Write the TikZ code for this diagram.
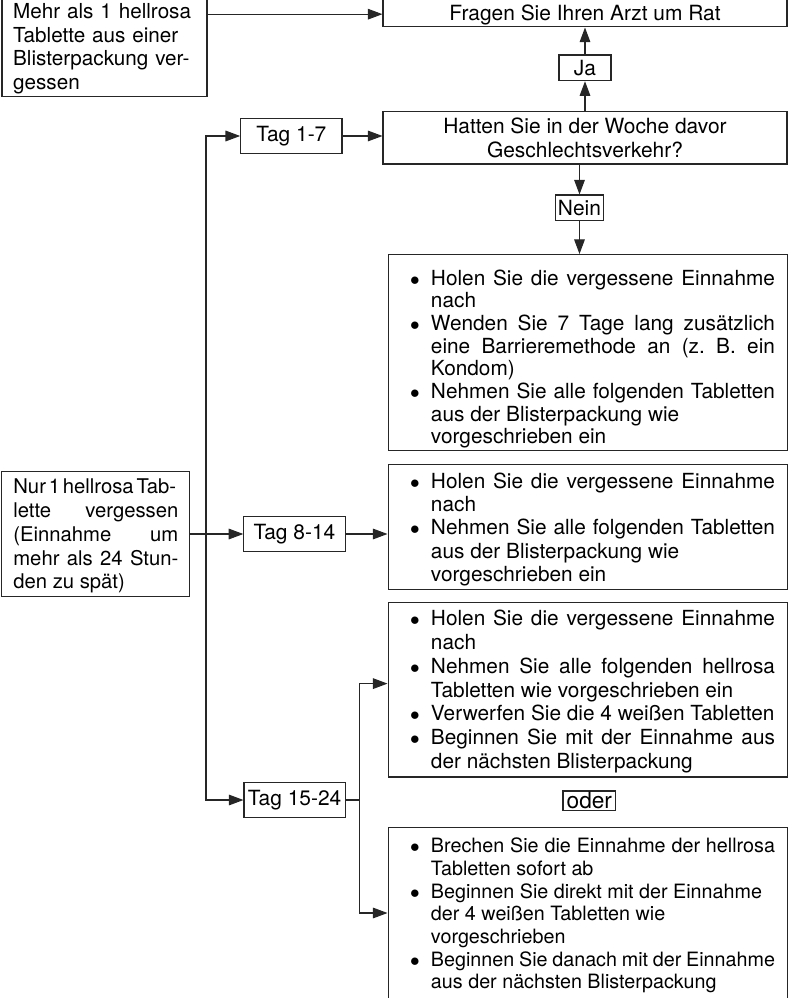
\documentclass[tikz,border=0pt]{standalone}
\usepackage{fontspec}
\setmainfont{TeX Gyre Heros}
\usetikzlibrary{arrows.meta,calc}
\hyphenpenalty=10000
\exhyphenpenalty=10000
\frenchspacing

%% Aufzaehlungspunkt mit haengendem Einzug
\newcommand{\punkt}{\par\noindent\hangindent=22.7pt\hangafter=1\hspace*{7pt}\makebox[15.7pt][l]{$\bullet$}}
%% Abstand oben / unten im Kasten
\newcommand{\oben}[1]{\rule{0pt}{#1}}
\newcommand{\unten}[1]{\rule[-#1]{0pt}{#1}}

\begin{document}
\begin{tikzpicture}[x=0.75pt, y=-0.75pt,
  kasten/.style={draw=black!85, line width=0.8pt, inner sep=0pt, font=\fontsize{15.7}{17.5}\selectfont},
  liste/.style={kasten, anchor=north, text width=280.7pt, inner xsep=9.5pt, align=justify},
  tagbox/.style={kasten, minimum width=76pt, minimum height=26pt},
  pfeil/.style={-{Triangle[length=11pt,width=8pt]}, line width=0.8pt, draw=black!85}]

\useasboundingbox (0,0) rectangle (793,998);
\clip (0,0) rectangle (793,998);

%% Ausgangslage
\node[kasten, anchor=north, text width=137pt, inner xsep=8.375pt, align=left,
      font=\fontsize{15.5}{17.8}\selectfont] (mehr) at (104.5,-1)
  {\oben{14.25pt}Mehr als 1 hellrosa\\Tablette aus einer\\Blisterpackung ver-\\gessen\unten{5pt}};
\node[kasten, anchor=north, text width=123.75pt, inner xsep=8.7pt, align=justify,
      font=\fontsize{15.2}{17.8}\selectfont] (nur) at (95.85,470.7)
  {\oben{16.95pt}\mbox{Nur\hspace{2.1pt}1\hspace{2.1pt}hellrosa\hspace{2.1pt}Tab-}\linebreak lette vergessen\linebreak
   (Einnahme um\linebreak mehr als 24 Stun-\linebreak den zu spät)\unten{5.8pt}\par};

%% Fragen
\node[kasten, anchor=south, minimum width=303pt, text height=30pt, text depth=5.1pt] (fragen) at (585,27.5)
  {Fragen Sie Ihren Arzt um Rat};
\node[kasten, minimum width=39pt, minimum height=19.3pt] (ja) at (585,67.85) {Ja};
\node[kasten, minimum width=303pt, minimum height=39.2pt, align=center] (hatten) at (585,137.85)
  {Hatten Sie in der Woche davor\\Geschlechtsverkehr?};
\node[kasten, minimum width=35.7pt, minimum height=19.3pt] (nein) at (579.5,207.85) {Nein};
\node[kasten, minimum width=39.5pt, minimum height=14.8pt, font=\fontsize{17}{17}\selectfont] (oder) at (589.35,800.85) {oder};

%% Tage
\node[tagbox] (tag17) at (291.35,136) {Tag 1-7};
\node[tagbox] (tag814) at (294.5,534) {Tag 8-14};
\node[tagbox] (tag1524) at (294.65,800) {Tag 15-24};

%% Anweisungen
\node[liste, font=\fontsize{15.6}{17}\selectfont] (b1) at (587.85,254)
  {\punkt\oben{22pt}Holen Sie die vergessene Einnahme\linebreak nach
   \punkt Wenden Sie 7 Tage lang zusätzlich\linebreak eine Barrieremethode an (z.~B. ein\linebreak Kondom)
   \punkt Nehmen Sie alle folgenden Tabletten\linebreak aus der Blisterpackung wie\newline vorgeschrieben ein\unten{5pt}\par};
\node[liste, font=\fontsize{15.6}{17.5}\selectfont] (b2) at (587.85,464.3)
  {\punkt\oben{15.5pt}Holen Sie die vergessene Einnahme\linebreak nach
   \punkt Nehmen Sie alle folgenden Tabletten\linebreak aus der Blisterpackung wie\newline vorgeschrieben ein\unten{5.8pt}\par};
\node[liste, font=\fontsize{15.6}{17.8}\selectfont] (b3) at (587.85,601.7)
  {\punkt\oben{16.4pt}Holen Sie die vergessene Einnahme\linebreak nach
   \punkt Nehmen Sie alle folgenden hellrosa\linebreak Tabletten wie vorgeschrieben ein
   \punkt Verwerfen Sie die 4 weißen Tabletten
   \punkt Beginnen Sie mit der Einnahme aus\linebreak der nächsten Blisterpackung\unten{6.45pt}\par};
\node[liste, font=\fontsize{14.8}{17}\selectfont] (b4) at (587.85,826.7)
  {\punkt\oben{18.2pt}Brechen Sie die Einnahme der hellrosa\linebreak Tabletten sofort ab
   \punkt Beginnen Sie direkt mit der Einnahme\newline der 4 weißen Tabletten wie\newline vorgeschrieben
   \punkt Beginnen Sie danach mit der Einnahme\linebreak aus der nächsten Blisterpackung\unten{12pt}\par};

%% Verbindungen
\coordinate (rat) at ($(fragen.mid west)+(0,-2.5)$);
\coordinate (stamm) at (206,534);
\coordinate (teiler) at (359.3,800);
\draw[pfeil] (mehr.east |- rat) -- (rat);
\draw[pfeil] (hatten.north) -- (ja.south);
\draw[pfeil] (ja.north) -- (fragen.south);
\draw[pfeil] (tag17.east) -- (tag17.east -| hatten.west);
\draw[pfeil] (hatten.south -| nein.north) -- (nein.north);
\draw[pfeil] (nein.south) -- (nein.south |- b1.north);
\draw[pfeil] (nur.east |- tag814.west) -- (tag814.west);
\draw[pfeil] (stamm) |- (tag17.west);
\draw[pfeil] (stamm) |- (tag1524.west);
\draw[pfeil] (tag814.east) -- (tag814.east -| b2.west);
\draw[line width=0.8pt, draw=black!85] (tag1524.east) -- (teiler);
\draw[pfeil] (teiler) |- ($(b3.west)+(0,-6)$);
\draw[pfeil] (teiler) |- ($(b4.north west)+(0,86.3)$);
\end{tikzpicture}
\end{document}
